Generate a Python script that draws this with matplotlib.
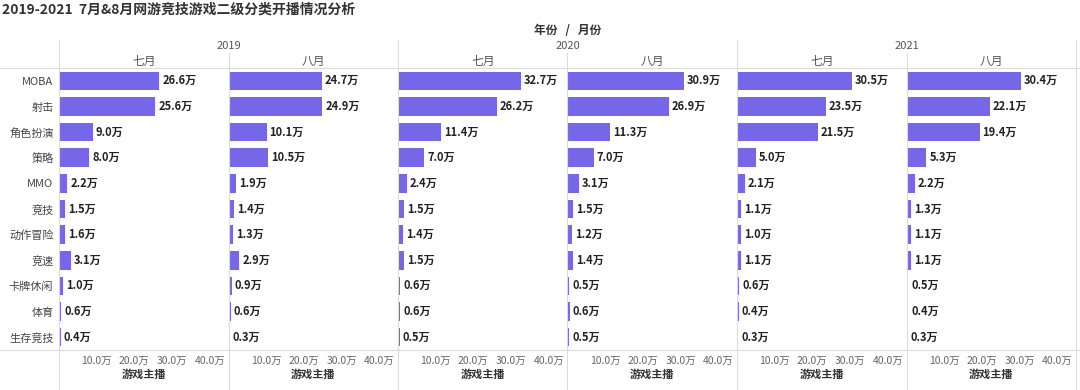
import matplotlib
matplotlib.use('Agg')
import matplotlib.pyplot as plt
from matplotlib.lines import Line2D

plt.rcParams['font.family'] = ['Noto Sans CJK SC', 'DejaVu Sans']

# 数据
categories = ['MOBA', '射击', '角色扮演', '策略', 'MMO', '竞技', '动作冒险', '竞速', '卡牌休闲', '体育', '生存竞技']
years = ['2019', '2020', '2021']
months = ['七月', '八月']
v2019_jul = [26.6, 25.6, 9.0, 8.0, 2.2, 1.5, 1.6, 3.1, 1.0, 0.6, 0.4]
v2019_aug = [24.7, 24.9, 10.1, 10.5, 1.9, 1.4, 1.3, 2.9, 0.9, 0.6, 0.3]
v2020_jul = [32.7, 26.2, 11.4, 7.0, 2.4, 1.5, 1.4, 1.5, 0.6, 0.6, 0.5]
v2020_aug = [30.9, 26.9, 11.3, 7.0, 3.1, 1.5, 1.2, 1.4, 0.5, 0.6, 0.5]
v2021_jul = [30.5, 23.5, 21.5, 5.0, 2.1, 1.1, 1.0, 1.1, 0.6, 0.4, 0.3]
v2021_aug = [30.4, 22.1, 19.4, 5.3, 2.2, 1.3, 1.1, 1.1, 0.5, 0.4, 0.3]
series = [v2019_jul, v2019_aug, v2020_jul, v2020_aug, v2021_jul, v2021_aug]
ticks = [10, 20, 30, 40]

W, H = 1080, 390
fig = plt.figure(figsize=(10.8, 3.9), dpi=100)

def fx(px):
    return px / W

def fy(py):
    return 1 - py / H

left = 59
pw = 169.5
top, bottom = 68, 350
bar_color = '#7567E8'
grid_color = '#dcdcdc'

for i, vals in enumerate(series):
    ax = fig.add_axes([fx(left + i * pw), fy(bottom), fx(pw), (bottom - top) / H])
    y = list(range(len(categories)))
    ax.barh(y, vals, height=0.72, color=bar_color)
    for yy, v in zip(y, vals):
        ax.text(v + 0.8, yy, '%.1f万' % v, va='center', ha='left',
                fontsize=8, fontweight='bold', color='#222222')
    ax.set_xlim(0, 45)
    ax.set_ylim(10.5, -0.5)
    ax.set_xticks(ticks)
    ax.set_xticklabels(['%.1f万' % t for t in ticks], fontsize=7.5, color='#666666')
    ax.tick_params(axis='x', length=0, pad=4)
    if i == 0:
        ax.set_yticks(y)
        ax.set_yticklabels(categories, fontsize=8, color='#444444')
        ax.tick_params(axis='y', length=0, pad=4)
    else:
        ax.set_yticks([])
    for s in ax.spines.values():
        s.set_visible(False)
    ax.set_xlabel('游戏主播', fontsize=8, fontweight='bold', color='#333333', labelpad=2)
    ax.patch.set_alpha(0)

# 表头和分隔线
fig.text(fx(2), fy(10), '2019-2021  7月&8月网游竞技游戏二级分类开播情况分析',
         fontsize=10, fontweight='bold', color='#333333', va='center', ha='left')
fig.text(fx(left + 3 * pw), fy(31), '年份   /   月份', fontsize=8.5, fontweight='bold',
         color='#333333', va='center', ha='center')
for j, yr in enumerate(years):
    fig.text(fx(left + (2 * j + 1) * pw), fy(46), yr, fontsize=8, color='#555555',
             va='center', ha='center')
    for k, m in enumerate(months):
        fig.text(fx(left + (2 * j + k + 0.5) * pw), fy(61), m, fontsize=8.5, color='#555555',
                 va='center', ha='center')

lines = []
for yy in [top, bottom]:
    lines.append(Line2D([0, 1], [fy(yy), fy(yy)], color=grid_color, lw=0.8))
for i in range(7):
    x = left + i * pw
    y0 = 40 if i % 2 == 0 else 53
    lines.append(Line2D([fx(x), fx(x)], [fy(y0), fy(390)], color=grid_color, lw=0.8))
for ln in lines:
    fig.add_artist(ln)

fig.savefig('out.png', dpi=100)
